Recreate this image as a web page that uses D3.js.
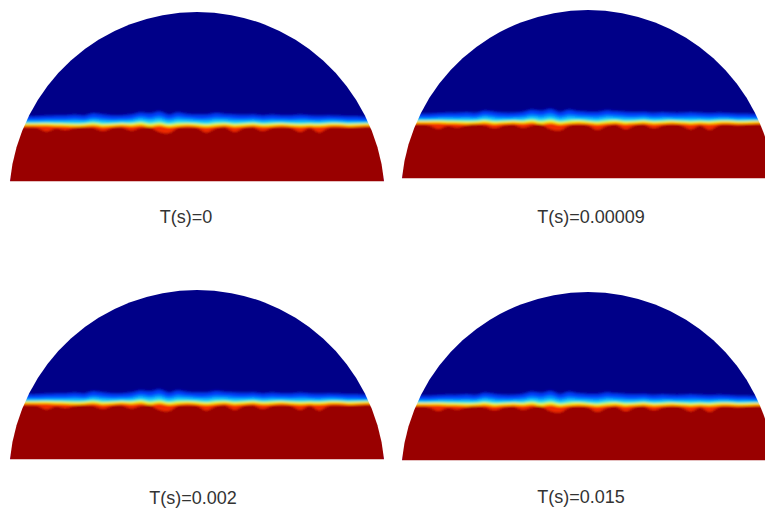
<!DOCTYPE html>
<html>
<head>
<meta charset="utf-8">
<script src="https://cdn.jsdelivr.net/npm/d3@7"></script>
<style>
  html, body { margin: 0; padding: 0; background: #ffffff; }
  svg { display: block; }
</style>
</head>
<body>
<svg id="chart" width="765" height="508"></svg>
<script>
// ---- data (vessel radius = 100 units, heights measured from the circle centre) ----
const labels = ["T(s)=0", "T(s)=0.00009", "T(s)=0.002", "T(s)=0.015"];
const chordHeight = 10;      // flat bottom of the vessel (units above centre)
const sampleX = [-100,-95,-90,-85,-80,-75,-70,-65,-60,-55,-50,-45,-40,-35,-30,-25,-20,-15,-10,-5,
                 0,5,10,15,20,25,30,35,40,45,50,55,60,65,70,75,80,85,90,95,100];
// top of the mixing layer (end of pure blue phase)
const blueEdge = [43.1,43.1,43.1,43.1,43.4,43.6,43.6,43.9,43.6,44.7,44.1,43.6,43.6,44.1,45.2,44.7,45.7,44.1,45.2,44.4,
                  44.1,44.1,44.9,44.4,44.1,43.9,44.1,43.6,43.9,43.6,43.6,43.9,43.6,43.4,43.6,43.4,43.1,43.1,42.8,42.8,42.8];
// yellow (mid value) level
const yellowEdge = [40.2,40.2,40.2,40.2,40.2,40.0,39.9,39.7,39.9,40.2,39.6,39.9,40.2,39.9,40.4,39.6,40.2,39.4,39.9,40.2,
                    39.9,39.4,39.9,40.2,39.6,39.9,40.2,39.7,39.9,40.2,39.9,39.6,39.9,39.7,40.1,40.2,39.9,40.0,40.2,40.2,40.2];
// top of the pure red phase (with downward fingers)
const redEdge = [38.8,38.8,38.6,38.3,36.4,38.0,37.2,38.3,38.6,38.3,36.7,38.3,38.6,37.0,38.3,38.6,36.2,35.6,38.3,38.6,
                 38.3,35.9,38.0,38.6,36.2,38.3,38.6,36.7,38.3,38.6,38.3,36.2,38.3,35.9,38.3,38.6,38.3,38.6,38.8,38.8,38.8];

// ---- layout ----
const panels = [
  {cx: 197, cy: 200, R: 188, lx: 186, ly: 223},
  {cx: 588, cy: 197, R: 187, lx: 591, ly: 223},
  {cx: 197, cy: 478, R: 188, lx: 193, ly: 504},
  {cx: 588, cy: 479, R: 187, lx: 581, ly: 503}
];

const svg = d3.select("#chart");
const defs = svg.append("defs");
defs.append("filter").attr("id", "soft").attr("x", "-5%").attr("y", "-5%").attr("width", "110%").attr("height", "110%")
  .append("feGaussianBlur").attr("stdDeviation", 0.9);

const pts = sampleX.map((x, i) => ({x, b: blueEdge[i], yl: yellowEdge[i], r: redEdge[i]}));
const mix = (a, b, t) => a + (b - a) * t;

// colour layers (jet colormap), drawn from top boundary downward
const layers = [
  {top: d => d.b + 2.0, color: "#0010b0"},
  {top: d => d.b + 1.0, color: "#0040f8"},
  {top: d => mix(d.b, d.yl, 0.2), color: "#0090ff"},
  {top: d => mix(d.b, d.yl, 0.5), color: "#20d8f4"},
  {top: d => mix(d.b, d.yl, 0.78), color: "#9cff6a"},
  {top: d => d.yl + 0.4, color: "#ffe600"},
  {top: d => d.yl - 0.5, color: "#ff8a00"},
  {top: d => d.yl - 1.0, color: "#ee2a00"},
  {top: d => d.r, color: "#990000"}
];

panels.forEach((p, i) => {
  const x = d3.scaleLinear().domain([-100, 100]).range([p.cx - p.R, p.cx + p.R]);
  const y = d3.scaleLinear().domain([0, 100]).range([p.cy, p.cy - p.R]);
  const phi = Math.asin(chordHeight / 100);
  const seg = d3.path();
  const half = Math.sqrt(100 * 100 - chordHeight * chordHeight);
  seg.moveTo(x(-half), y(chordHeight));
  seg.arc(p.cx, p.cy, p.R, Math.PI + phi, 2 * Math.PI - phi, false);
  seg.closePath();

  const clipId = "clip" + i;
  defs.append("clipPath").attr("id", clipId).append("path").attr("d", seg.toString());

  const g = svg.append("g").attr("clip-path", `url(#${clipId})`);
  const inner = g.append("g").attr("filter", "url(#soft)");
  inner.append("rect")
    .attr("x", x(-105)).attr("y", y(105))
    .attr("width", x(105) - x(-105)).attr("height", y(-5) - y(105))
    .attr("fill", "#000088");
  layers.forEach(L => {
    const area = d3.area()
      .x(d => x(d.x))
      .y0(y(-5))
      .y1(d => y(L.top(d)))
      .curve(d3.curveCatmullRom.alpha(0.5));
    inner.append("path").datum(pts).attr("d", area).attr("fill", L.color);
  });

  svg.append("text")
    .attr("x", p.lx).attr("y", p.ly)
    .attr("text-anchor", "middle")
    .attr("font-family", "'Liberation Sans', Arial, sans-serif")
    .attr("font-size", 18)
    .attr("fill", "#333333")
    .text(labels[i]);
});
</script>
</body>
</html>
